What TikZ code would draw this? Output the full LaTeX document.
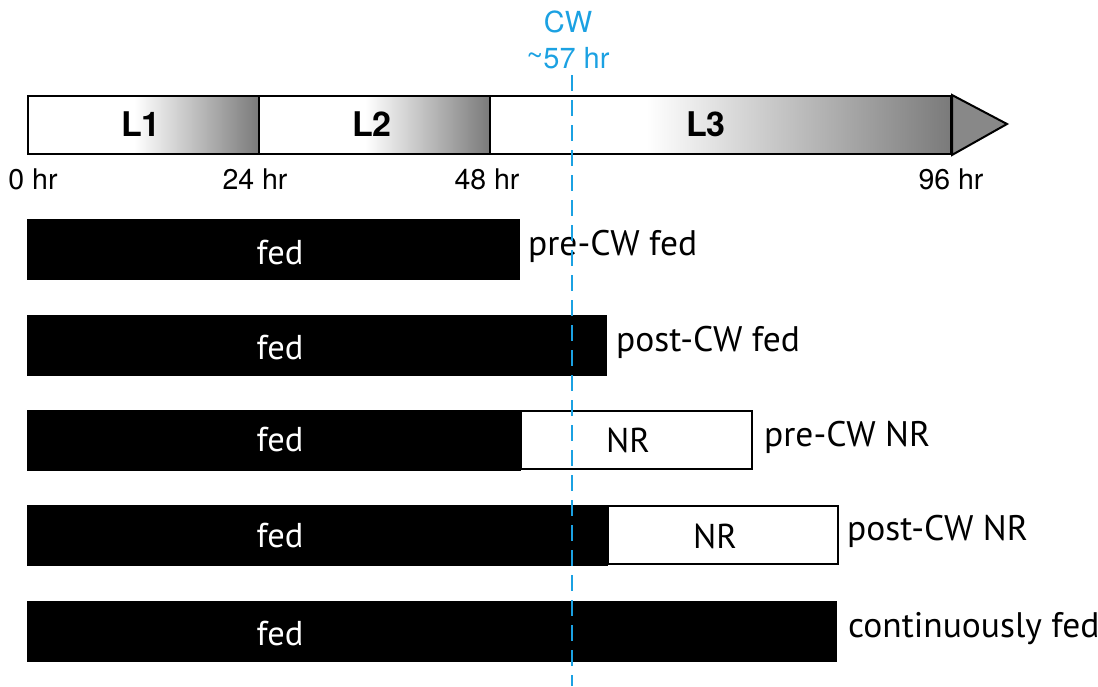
\documentclass[tikz,border=0pt]{standalone}
\usepackage{fontspec}
\setmainfont{PT Sans}
\newfontfamily\helv{TeX Gyre Heros}
\usetikzlibrary{positioning}
\definecolor{cwblue}{RGB}{27,161,226}
\definecolor{stagegray}{RGB}{122,122,122}
\definecolor{tipgray}{RGB}{136,136,136}
% white on the left, fading to gray at the right end of a stage
\pgfdeclarehorizontalshading{stageA}{100bp}{color(0bp)=(white); color(48bp)=(white); color(75bp)=(stagegray); color(100bp)=(stagegray)}
\pgfdeclarehorizontalshading{stageB}{100bp}{color(0bp)=(white); color(42bp)=(white); color(75bp)=(stagegray); color(100bp)=(stagegray)}
\tikzset{
  stagebox/.style={draw=black, line width=2pt, inner sep=0pt, anchor=north west, minimum height=58pt},
  fedbar/.style={fill=black, draw=black, inner sep=0pt, anchor=north west, minimum height=60pt},
  nrbar/.style={fill=white, draw=black, line width=1.8pt, inner sep=0pt, anchor=north west, minimum height=58pt},
  tick/.style={font=\helv\fontsize{28.5}{30}\selectfont, inner sep=0pt},
  stagelabel/.style={font=\helv\bfseries\fontsize{34}{36}\selectfont, inner sep=0pt},
  fedtext/.style={text=white, font=\fontsize{34.5}{36}\selectfont, inner sep=0pt},
  nrtext/.style={font=\fontsize{34.5}{36}\selectfont, inner sep=0pt},
  grouplabel/.style={anchor=west, font=\fontsize{35.5}{38}\selectfont, inner sep=0pt},
  cwlabel/.style={text=cwblue, font=\helv\fontsize{29}{31}\selectfont, inner sep=0pt}
}
\begin{document}
\begin{tikzpicture}[x=1pt, y=-1pt]
\useasboundingbox (0,0) rectangle (1098,686);

% larval stages
\node[stagebox, shading=stageA, minimum width=231pt] (l1) at (27,95) {};
\node[stagebox, shading=stageA, minimum width=231pt] (l2) at (258,95) {};
\node[stagebox, shading=stageB, minimum width=461pt] (l3) at (489,95) {};
\node[stagelabel] at (141,124) {L1};
\node[stagelabel] at (372,124) {L2};
\node[stagelabel] at (706,124) {L3};
\draw[line width=2pt, fill=tipgray, line join=miter] (l3.north east) -- (1007,124) -- (l3.south east) -- cycle;

% hour marks
\node[tick] (h0) at (33,179) {0 hr};
\node[tick] (h24) at (255,179) {24 hr};
\node[tick] (h48) at (487,179) {48 hr};
\node[tick] (h96) at (951,179) {96 hr};

% feeding regimes
\node[fedbar, minimum width=492pt] (r1) at (27,219) {};
\node[fedtext] at (280,253) {fed};
\node[grouplabel] (g1) at (528,246) {pre-CW fed};

\node[fedbar, minimum width=579pt] (r2) at (27,315) {};
\node[fedtext] at (280,348) {fed};
\node[grouplabel] (g2) at (616,342) {post-CW fed};

\node[fedbar, minimum width=493pt] (r3) at (27,410) {};
\node[nrbar, minimum width=231pt] (n3) at (r3.north east) {};
\node[fedtext] at (280,440) {fed};
\node[nrtext] at (628,440) {NR};
\node[grouplabel] (g3) at (764,437) {pre-CW NR};

\node[fedbar, minimum width=580pt] (r4) at (27,505) {};
\node[nrbar, minimum width=230pt] (n4) at (r4.north east) {};
\node[fedtext] at (280,536) {fed};
\node[nrtext] at (715,536) {NR};
\node[grouplabel] (g4) at (847,531) {post-CW NR};

\node[fedbar, minimum width=809pt] (r5) at (27,601) {};
\node[fedtext] at (280,634) {fed};
\node[grouplabel] (g5) at (848,629) {continuously fed};

% critical weight
\node[cwlabel] (cw) at (568,22) {CW};
\node[cwlabel] (cwt) at (568,58) {\raisebox{0.2ex}{\textasciitilde}57 hr};
\coordinate (cwtop) at (572,75);
\coordinate (cwbot) at (572,686);
\draw[cwblue, line width=2.5pt, dash pattern=on 16pt off 9pt] (cwtop) -- (cwbot);
\end{tikzpicture}
\end{document}
